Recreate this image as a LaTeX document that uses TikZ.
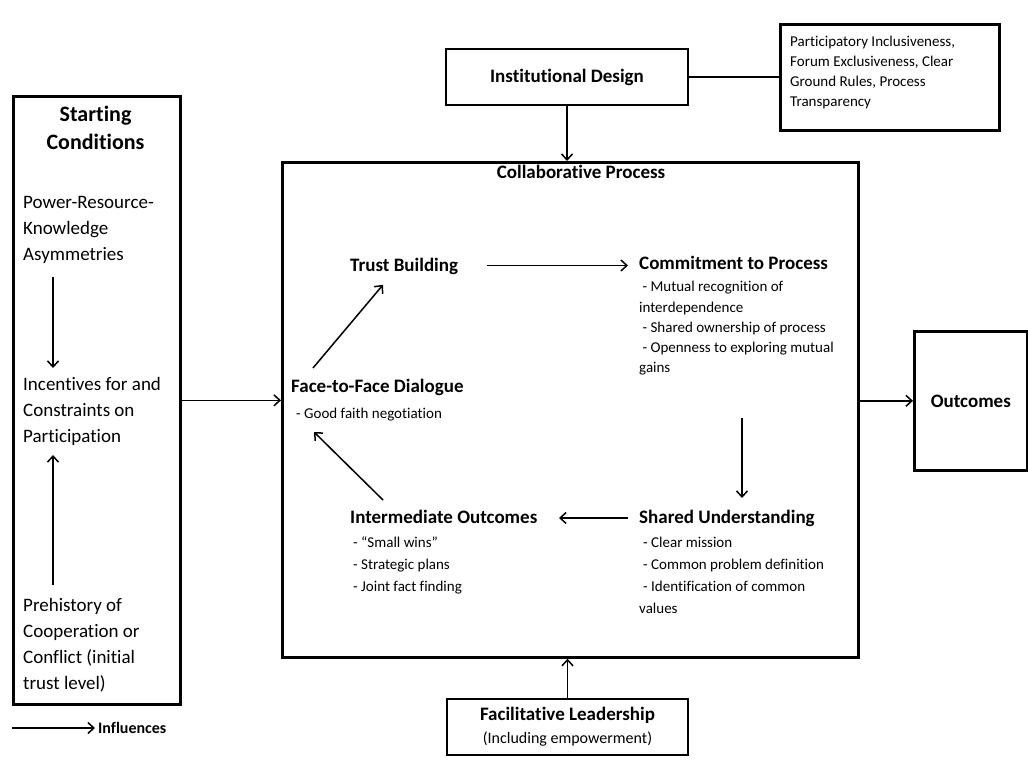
\documentclass[tikz,border=0pt]{standalone}
\usepackage{fontspec}
\setmainfont{Carlito}[Ligatures={NoCommon}]
\usetikzlibrary{arrows.meta,calc}
\begin{document}
\begin{tikzpicture}[x=1pt,y=1pt,
  box/.style={draw=black, line width=2.7pt, inner sep=0pt},
  arr/.style={draw=black, line width=1.5pt, -{Straight Barb[length=6pt,width=11pt]}},
  conn/.style={draw=black, line width=1.5pt},
  head/.style={font=\fontsize{19}{23}\selectfont\bfseries, inner sep=0pt, text height=13.5pt, text depth=4pt},
  small/.style={font=\fontsize{15}{20.3}\selectfont, inner sep=0pt, align=left},
  smallw/.style={font=\fontsize{15}{22}\selectfont, inner sep=0pt, align=left},
  big/.style={font=\fontsize{19}{26}\selectfont, inner sep=0pt, align=left},
]
\useasboundingbox (0,0) rectangle (1028,-760);
\fill[white] (0,0) rectangle (1028,-760);

% Starting conditions
\node[box, anchor=north west, minimum width=167pt, minimum height=608pt] (scbox) at (12,-95) {};
\node[font=\fontsize{22}{28}\selectfont\bfseries, align=center, inner sep=0pt, anchor=north] (sctitle) at (95.5,-102) {\strut Starting\\Conditions};
\node[big, anchor=north west] (pra) at (23,-190) {\strut Power-Resource-\\Knowledge\\Asymmetries};
\node[big, anchor=north west] (inc) at (23,-372.5) {\strut Incentives for and\\Constraints on\\Participation};
\node[big, anchor=north west] (pre) at (23,-592.7) {\strut Prehistory of\\Cooperation or\\Conflict (initial\\trust level)};

% Collaborative process
\node[box, anchor=north west, minimum width=576pt, minimum height=495pt] (proc) at (281,-161) {};
\node[head, anchor=base] (proct) at (581,-178.7) {Collaborative Process};
\node[head, anchor=base west] (tb) at (350,-271.5) {Trust Building};
\node[head, anchor=base west] (comh) at (639,-269) {Commitment to Process};
\node[small, anchor=north west] (comb) at (639,-277.3) {\strut\hspace*{3.4pt}- Mutual recognition of\\interdependence\\\hspace*{3.4pt}- Shared ownership of process\\\hspace*{3.4pt}- Openness to exploring mutual\\gains};
\node[head, anchor=base west] (ftfh) at (291,-392.7) {Face-to-Face Dialogue};
\node[font=\fontsize{15}{20}\selectfont, inner sep=0pt, anchor=base west] (ftfb) at (296,-418.5) {- Good faith negotiation};
\node[head, anchor=base west] (ioh) at (350,-523.7) {Intermediate Outcomes};
\node[smallw, anchor=north west] (iob) at (353,-532.1) {\strut - “Small wins”\\- Strategic plans\\- Joint fact finding};
\node[head, anchor=base west] (suh) at (639,-523.7) {Shared Understanding};
\node[smallw, anchor=north west] (sub) at (639,-532.1) {\strut\hspace*{4pt}- Clear mission\\\hspace*{4pt}- Common problem definition\\\hspace*{4pt}- Identification of common\\values};

% Outcomes
\node[box, anchor=north west, minimum width=113pt, minimum height=139pt, font=\fontsize{19}{23}\selectfont\bfseries] (out) at (913,-330) {Outcomes};

% Institutional design
\node[box, minimum width=242pt, minimum height=56pt, font=\fontsize{19}{23}\selectfont\bfseries] (id) at (567,-77) {Institutional Design};
\node[box, anchor=north west, minimum width=219pt, minimum height=106pt] (pib) at (779,-23) {};
\node[font=\fontsize{15}{20}\selectfont, inner sep=0pt, align=left, anchor=north west] (pibt) at (790,-32.5) {\strut Participatory Inclusiveness,\\Forum Exclusiveness, Clear\\Ground Rules, Process\\Transparency};

% Facilitative leadership
\node[box, minimum width=241pt, minimum height=56pt, align=center, font=\fontsize{16}{23}\selectfont] (fl) at (567.5,-727) {{\fontsize{19}{23}\selectfont\bfseries Facilitative Leadership}\\(Including empowerment)};

% Legend
\node[font=\fontsize{16}{20}\selectfont\bfseries, inner sep=0pt, anchor=base west, text height=11pt, text depth=3pt] (legt) at (98,-733) {Influences};
\coordinate (legs) at (12,-728);

% Connectors
\draw[arr] (legs) -- ([xshift=-3pt]legs -| legt.west);
\draw[arr] ($(pra.north west)+(30,-87)$) -- ($(inc.north west)+(30,4.5)$);
\draw[arr] ($(pre.north west)+(30,7.7)$) -- ($(inc.north west)+(30,-82.5)$);
\draw[arr] (scbox.east) -- (scbox.east -| proc.west);
\draw[arr] (proc.east |- out.west) -- (out.west);
\draw[arr] (id.south) -- (id.south |- proc.north);
\draw[arr] (fl.north) -- (fl.north |- proc.south);
\draw[conn] (id.east) -- (id.east -| pib.west);
\draw[arr] ($(ftfh.base west)+(22,24.7)$) -- ($(tb.base west)+(33,-13.3)$);
\draw[arr] ($(tb.base west)+(137,6)$) -- ($(comh.base west)+(-11,3.5)$);
\draw[arr] ($(comb.north west)+(103,-140.7)$) -- ($(suh.base west)+(103,25.7)$);
\draw[arr] ($(suh.base west)+(-11,5.7)$) -- ($(ioh.base west)+(209,5.7)$);
\draw[arr] ($(ioh.base west)+(33,23.7)$) -- ($(ftfb.base west)+(18,-13.5)$);
\end{tikzpicture}
\end{document}
